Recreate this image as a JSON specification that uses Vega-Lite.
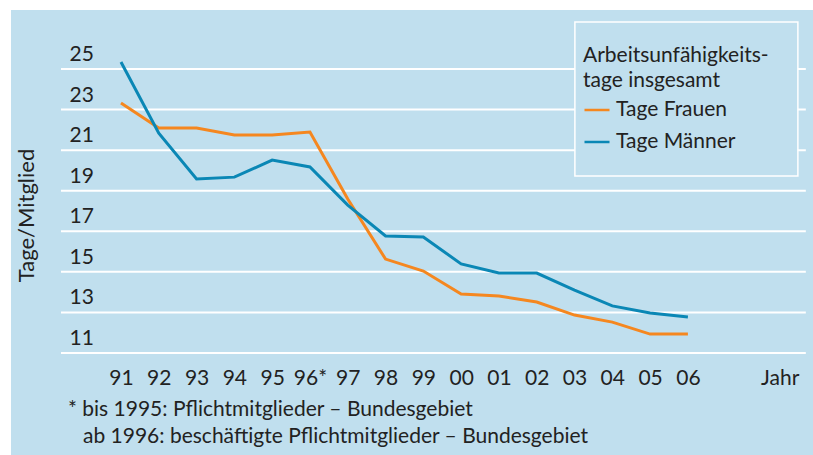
{
  "$schema": "https://vega.github.io/schema/vega-lite/v6.json",
  "autosize": "none",
  "width": 802,
  "height": 445,
  "padding": {"left": 11, "top": 10, "right": 0, "bottom": 0},
  "background": "white",
  "config": {
    "view": {"fill": "#c0dfee", "stroke": null},
    "font": "Lato",
    "text": {"font": "Lato", "fontSize": 19, "color": "#222222"}
  },
  "datasets": {
    "werte": [
      {"jahr": 1991, "serie": "Tage Frauen", "wert": 23.32},
      {"jahr": 1992, "serie": "Tage Frauen", "wert": 22.09},
      {"jahr": 1993, "serie": "Tage Frauen", "wert": 22.09},
      {"jahr": 1994, "serie": "Tage Frauen", "wert": 21.75},
      {"jahr": 1995, "serie": "Tage Frauen", "wert": 21.75},
      {"jahr": 1996, "serie": "Tage Frauen", "wert": 21.89},
      {"jahr": 1997, "serie": "Tage Frauen", "wert": 18.59},
      {"jahr": 1998, "serie": "Tage Frauen", "wert": 15.63},
      {"jahr": 1999, "serie": "Tage Frauen", "wert": 15.04},
      {"jahr": 2000, "serie": "Tage Frauen", "wert": 13.91},
      {"jahr": 2001, "serie": "Tage Frauen", "wert": 13.81},
      {"jahr": 2002, "serie": "Tage Frauen", "wert": 13.51},
      {"jahr": 2003, "serie": "Tage Frauen", "wert": 12.87},
      {"jahr": 2004, "serie": "Tage Frauen", "wert": 12.52},
      {"jahr": 2005, "serie": "Tage Frauen", "wert": 11.93},
      {"jahr": 2006, "serie": "Tage Frauen", "wert": 11.93},
      {"jahr": 1991, "serie": "Tage Männer", "wert": 25.35},
      {"jahr": 1992, "serie": "Tage Männer", "wert": 21.84},
      {"jahr": 1993, "serie": "Tage Männer", "wert": 19.58},
      {"jahr": 1994, "serie": "Tage Männer", "wert": 19.67},
      {"jahr": 1995, "serie": "Tage Männer", "wert": 20.51},
      {"jahr": 1996, "serie": "Tage Männer", "wert": 20.17},
      {"jahr": 1997, "serie": "Tage Männer", "wert": 18.29},
      {"jahr": 1998, "serie": "Tage Männer", "wert": 16.77},
      {"jahr": 1999, "serie": "Tage Männer", "wert": 16.72},
      {"jahr": 2000, "serie": "Tage Männer", "wert": 15.39},
      {"jahr": 2001, "serie": "Tage Männer", "wert": 14.94},
      {"jahr": 2002, "serie": "Tage Männer", "wert": 14.94},
      {"jahr": 2003, "serie": "Tage Männer", "wert": 14.10},
      {"jahr": 2004, "serie": "Tage Männer", "wert": 13.32},
      {"jahr": 2005, "serie": "Tage Männer", "wert": 12.97},
      {"jahr": 2006, "serie": "Tage Männer", "wert": 12.77}
    ],
    "raster": [
      {"wert": 11}, {"wert": 13}, {"wert": 15}, {"wert": 17},
      {"wert": 19}, {"wert": 21}, {"wert": 23}, {"wert": 25}
    ],
    "eins": [{}]
  },
  "layer": [
    {
      "data": {"name": "raster"},
      "mark": {"type": "rule", "color": "white", "strokeWidth": 2},
      "encoding": {
        "y": {"field": "wert", "type": "quantitative", "scale": {"domain": [5.97, 27.91], "nice": false, "zero": false},
          "axis": {
            "values": [11, 13, 15, 17, 19, 21, 23, 25],
            "domain": false, "ticks": false, "grid": false,
            "labelAlign": "left", "labelBaseline": "middle",
            "labelPadding": -58, "labelOffset": -14.5,
            "labelFont": "Lato", "labelFontSize": 21, "labelColor": "#222222",
            "title": "Tage/Mitglied", "titleFont": "Lato", "titleFontSize": 22, "titleFontWeight": "normal",
            "titleColor": "#222222", "titleAngle": -90, "titleX": 15, "titleY": 205,
            "titleAlign": "center", "titleBaseline": "middle"
          }
        },
        "x": {"datum": 1989.413, "type": "quantitative",
          "scale": {"domain": [1988.09, 2009.31], "nice": false, "zero": false},
          "axis": {
            "values": [1991, 1992, 1993, 1994, 1995, 1996, 1997, 1998, 1999, 2000, 2001, 2002, 2003, 2004, 2005, 2006, 2008.43],
            "labelExpr": "datum.value > 2007 ? 'Jahr' : (datum.value == 1996 ? '96*' : slice(format(datum.value, 'd'), 2))",
            "domain": false, "ticks": false, "grid": false,
            "labelPadding": -77, "labelBaseline": "middle",
            "labelFont": "Lato", "labelFontSize": 21, "labelColor": "#222222",
            "labelOverlap": false, "labelFlush": false,
            "title": null
          }
        },
        "x2": {"datum": 2009.12}
      }
    },
    {
      "data": {"name": "eins"},
      "mark": {"type": "rect", "fill": "#c0dfee", "stroke": "white", "strokeWidth": 1.5},
      "encoding": {
        "x": {"datum": 2003.01, "type": "quantitative"},
        "x2": {"datum": 2008.91},
        "y": {"datum": 27.32, "type": "quantitative"},
        "y2": {"datum": 19.73}
      }
    },
    {
      "data": {"name": "werte"},
      "mark": {"type": "line", "strokeWidth": 3, "strokeJoin": "miter"},
      "encoding": {
        "x": {"field": "jahr", "type": "quantitative"},
        "y": {"field": "wert", "type": "quantitative"},
        "color": {
          "field": "serie", "type": "nominal",
          "scale": {"domain": ["Tage Frauen", "Tage Männer"], "range": ["#f5871f", "#0a87b5"]},
          "legend": {
            "orient": "none", "legendX": 572, "legendY": 35,
            "title": ["Arbeitsunfähigkeits-", "tage insgesamt"],
            "titleFont": "Lato", "titleFontSize": 21, "titleFontWeight": "normal", "titleColor": "#222222",
            "titleLineHeight": 25, "titlePadding": 5, "titleLimit": 400,
            "labelFont": "Lato", "labelFontSize": 21, "labelColor": "#222222", "labelOffset": 5, "labelLimit": 400,
            "symbolType": "stroke", "symbolSize": 625, "symbolStrokeWidth": 2.5,
            "rowPadding": 8, "padding": 0, "fillColor": null, "strokeColor": null
          }
        }
      }
    },
    {
      "data": {"name": "eins"},
      "mark": {"type": "text", "align": "left", "baseline": "middle", "fontSize": 21},
      "encoding": {
        "x": {"datum": 1989.598, "type": "quantitative"},
        "y": {"datum": 8.194, "type": "quantitative"},
        "text": {"value": "* bis 1995: Pflichtmitglieder – Bundesgebiet"}
      }
    },
    {
      "data": {"name": "eins"},
      "mark": {"type": "text", "align": "left", "baseline": "middle", "fontSize": 21},
      "encoding": {
        "x": {"datum": 1989.995, "type": "quantitative"},
        "y": {"datum": 6.863, "type": "quantitative"},
        "text": {"value": "ab 1996: beschäftigte Pflichtmitglieder – Bundesgebiet"}
      }
    }
  ]
}
